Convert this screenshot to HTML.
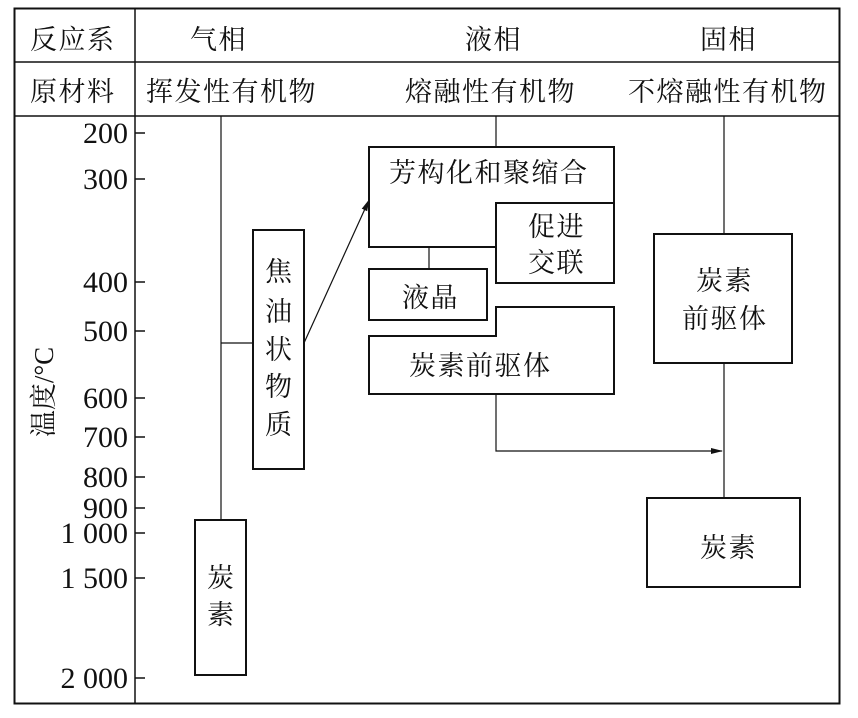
<!DOCTYPE html>
<html><head><meta charset="utf-8"><style>
html,body{margin:0;padding:0;background:#fff;}
svg{display:block;}
text{font-family:"Liberation Serif","Noto Serif CJK SC","Noto Sans CJK SC",serif;fill:#111;}
.c{font-family:"Liberation Sans","Noto Sans CJK SC",sans-serif;font-size:27px;letter-spacing:1.5px;}
.n{font-size:30px;text-anchor:end;}
</style></head><body>
<svg width="858" height="718" viewBox="0 0 858 718" xmlns="http://www.w3.org/2000/svg">
<defs><marker id="a" markerWidth="12" markerHeight="8" refX="11" refY="4" orient="auto" markerUnits="userSpaceOnUse"><path d="M0,1 L12,4 L0,7 Z" fill="#111"/></marker></defs>
<g fill="none" stroke="#111" stroke-width="1.5">
<rect x="14.5" y="8.5" width="825" height="695" stroke-width="2"/>
<line x1="14" y1="62" x2="840" y2="62"/>
<line x1="14" y1="116" x2="840" y2="116"/>
<line x1="135" y1="8" x2="135" y2="704"/>
<path d="M135,133h10M135,179h10M135,282h10M135,331h10M135,398h10M135,437h10M135,477h10M135,508h10M135,533h10M135,578h10M135,678h10"/>
<line x1="221" y1="116" x2="221" y2="520" stroke-width="1.2"/>
<line x1="221" y1="343" x2="253" y2="343" stroke-width="1.2"/>
<rect x="253" y="230" width="51" height="239" stroke-width="2"/>
<rect x="195" y="520" width="51" height="155" stroke-width="2"/>
<line x1="304" y1="343" x2="369" y2="200" stroke-width="1.2" marker-end="url(#a)"/>
<line x1="496" y1="116" x2="496" y2="147" stroke-width="1.2"/>
<path d="M369,147H614V283H496V247H369Z" stroke-width="2"/>
<path d="M496,247V203H614" stroke-width="2"/>
<line x1="429" y1="247" x2="429" y2="269" stroke-width="1.2"/>
<rect x="369" y="269" width="118" height="51" stroke-width="2"/>
<path d="M369,336H496V307H614V394H369Z" stroke-width="2"/>
<path d="M496,394V451H722" stroke-width="1.2" marker-end="url(#a)"/>
<line x1="724" y1="116" x2="724" y2="234" stroke-width="1.2"/>
<rect x="654" y="234" width="138" height="129" stroke-width="2"/>
<line x1="724" y1="363" x2="724" y2="498" stroke-width="1.2"/>
<rect x="647" y="498" width="153" height="89" stroke-width="2"/>
</g>
<g class="c">
<text x="30" y="49">反应系</text>
<text x="30" y="101">原材料</text>
<text x="190" y="49">气相</text>
<text x="465" y="49">液相</text>
<text x="700" y="49">固相</text>
<text x="146" y="101">挥发性有机物</text>
<text x="405" y="101">熔融性有机物</text>
<text x="628" y="101">不熔融性有机物</text>
<text x="389" y="182">芳构化和聚缩合</text>
<text x="528" y="236">促进</text>
<text x="528" y="272">交联</text>
<text x="402" y="307">液晶</text>
<text x="409" y="375">炭素前驱体</text>
<text x="696" y="290">炭素</text>
<text x="682" y="328">前驱体</text>
<text x="700" y="557">炭素</text>
<text x="265" y="281">焦</text>
<text x="265" y="321">油</text>
<text x="265" y="359">状</text>
<text x="265" y="396">物</text>
<text x="265" y="434">质</text>
<text x="207" y="587">炭</text>
<text x="207" y="624">素</text>
<text transform="translate(53,392) rotate(-90)" text-anchor="middle" style="letter-spacing:0">温度/°C</text>
</g>
<g class="n">
<text x="128" y="143">200</text>
<text x="128" y="189">300</text>
<text x="128" y="292">400</text>
<text x="128" y="341">500</text>
<text x="128" y="408">600</text>
<text x="128" y="447">700</text>
<text x="128" y="487">800</text>
<text x="128" y="518">900</text>
<text x="128" y="543">1 000</text>
<text x="128" y="588">1 500</text>
<text x="128" y="688">2 000</text>
</g>
</svg>
</body></html>
